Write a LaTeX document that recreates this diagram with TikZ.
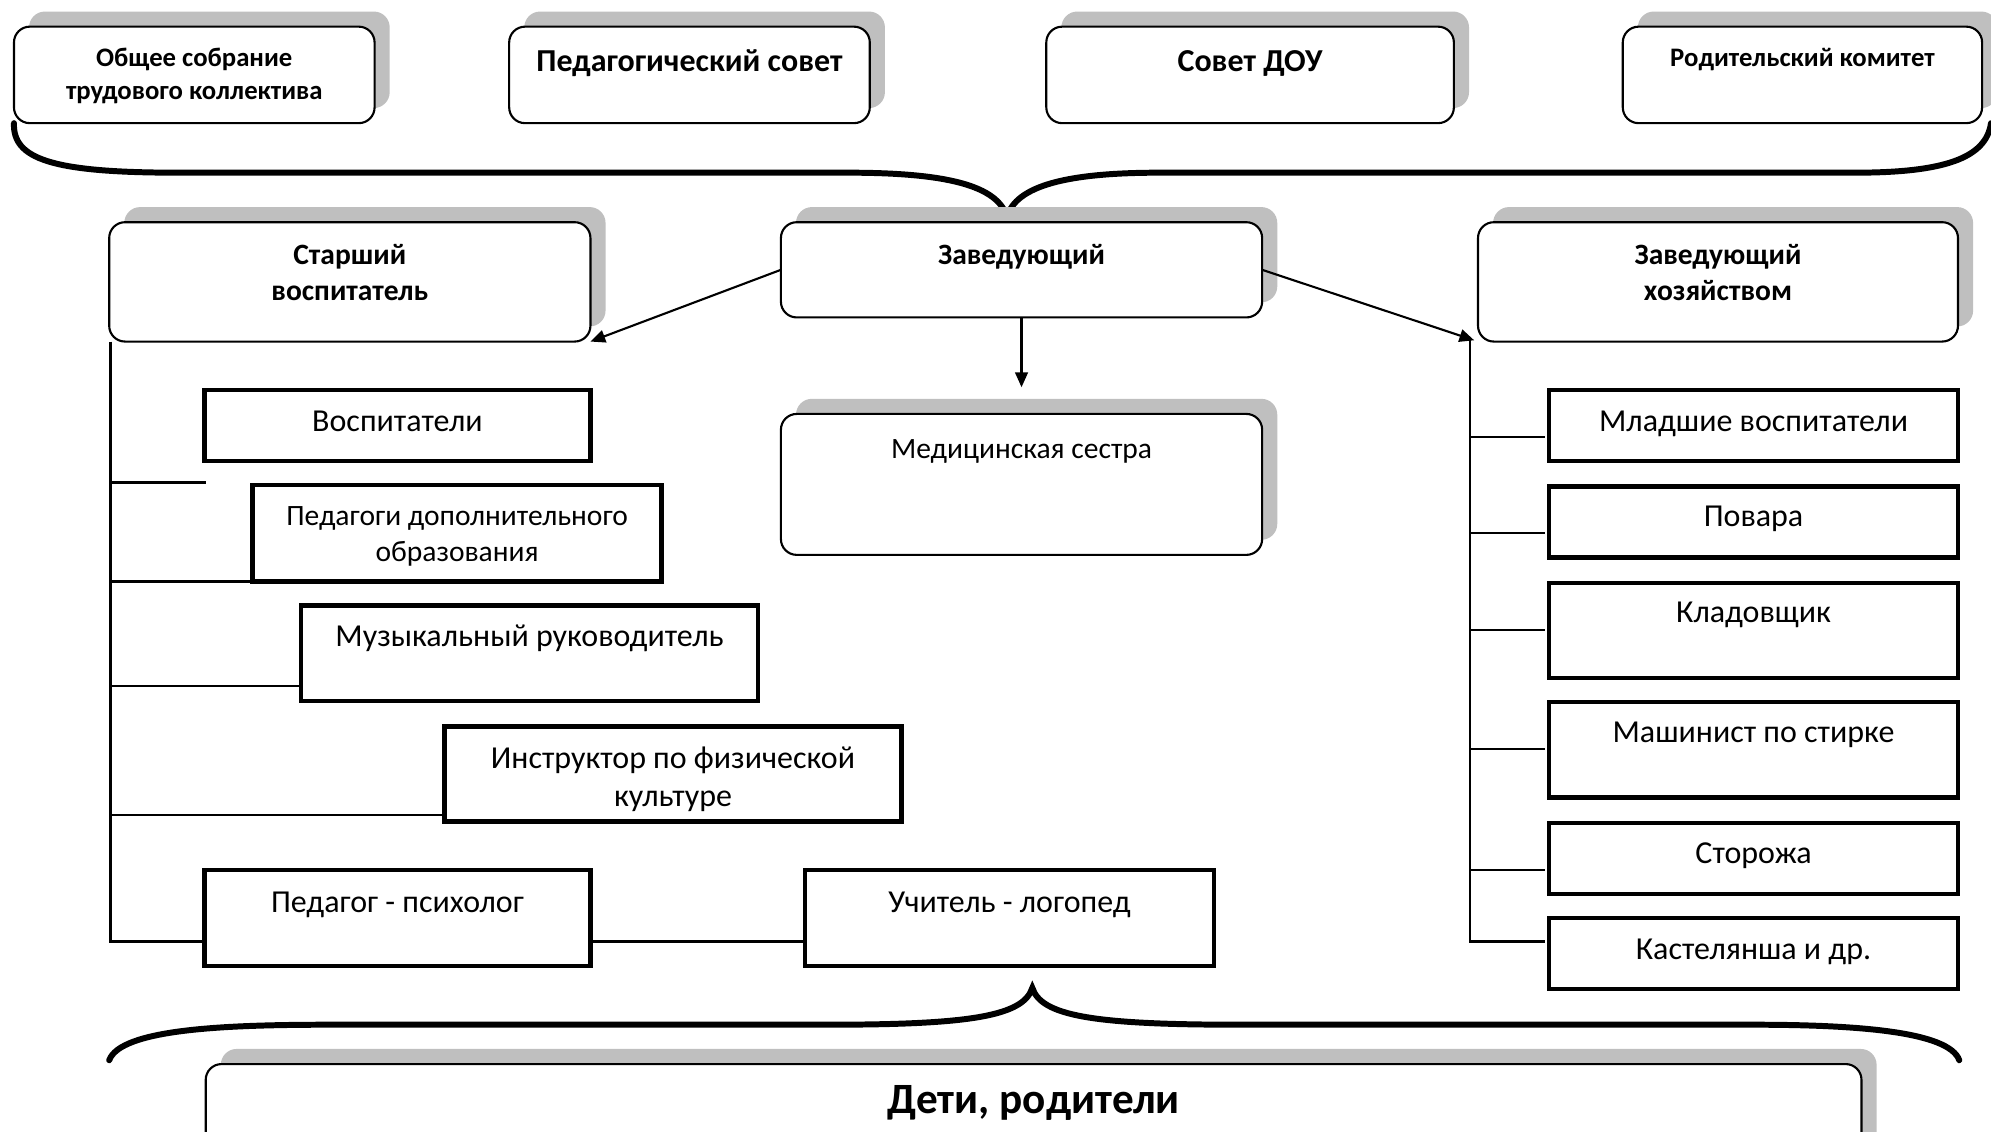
\documentclass[tikz,border=0pt]{standalone}
\usepackage{fontspec}
\setmainfont{Carlito}
\usetikzlibrary{shadows,arrows.meta,calc}
\newcommand\fSm{\bfseries\fontsize{7.6}{9.2}\selectfont}
\newcommand\fPd{\bfseries\fontsize{9.1}{10}\selectfont}
\newcommand\fMd{\bfseries\fontsize{8.4}{10.5}\selectfont}
\newcommand\fNr{\fontsize{9.1}{10.8}\selectfont}
\newcommand\fPdo{\fontsize{8.4}{10.1}\selectfont}
\newcommand\fMed{\fontsize{8.4}{10}\selectfont}
\newcommand\fBg{\bfseries\fontsize{12.3}{14}\selectfont}
\tikzset{
  rbox/.style={draw, rounded corners=4.5pt, fill=white, line width=0.6pt, inner sep=0pt, outer sep=0pt,
    drop shadow={shadow xshift=4.3pt, shadow yshift=4.3pt, fill=black!25, opacity=1}},
  sbox/.style={draw, line width=1.25pt, fill=white, inner sep=0pt, outer sep=0pt},
  txt/.style={inner sep=0pt, anchor=base, align=center},
  conn/.style={line width=0.6pt},
  arr/.style={line width=0.6pt, -{Triangle[length=4.2pt,width=3.6pt]}},
  brace/.style={line width=1.7pt, line cap=round}
}
\newcommand\bx[5]{\node[#1, minimum width=#4*0.3613pt, minimum height=#5*0.3613pt] (#2) at (#3) {};}
\begin{document}
\begin{tikzpicture}[x=0.3613pt, y=-0.3613pt]
\path[use as bounding box] (0,0) rectangle (1568,891);
\clip (0,0) rectangle (1568,891);

% top row
\bx{rbox}{obs}{153,59}{284}{76}
\bx{rbox}{ped}{543,59}{284}{76}
\bx{rbox}{sov}{984.5,59}{321}{76}
\bx{rbox}{rod}{1419.5,59}{283}{76}
\node[txt, font=\fSm] (tobs) at (153,78) {Общее собрание\\трудового коллектива};
\node[txt, font=\fPd] (tped) at (543,56.4) {Педагогический совет};
\node[txt, font=\fPd] (tsov) at (984.5,56.4) {Совет ДОУ};
\node[txt, font=\fSm] (trod) at (1419.5,52.5) {Родительский комитет};

% top brace
\draw[brace] (obs.south west) .. controls (10,125) and (40,136) .. (140,136) -- (668,136)
  .. controls (745,136) and (786,146) .. (793,171)
  .. controls (800,146) and (841,136) .. (913,136) -- (1461,136)
  .. controls (1530,136) and (1564,125) .. (1568,97);

% middle row
\bx{rbox}{star}{275.5,222}{379}{94}
\bx{rbox}{zav}{804.5,212.5}{379}{75}
\bx{rbox}{hoz}{1353,222}{378}{94}
\bx{rbox}{med}{804.5,381.5}{379}{111}
\node[txt, font=\fMd] (tstar) at (275.5,237) {Старший\\воспитатель};
\node[txt, font=\fMd] (tzav) at (804.5,208) {Заведующий};
\node[txt, font=\fMd] (thoz) at (1353,237) {Заведующий\\хозяйством};
\node[txt, font=\fMed] (tmed) at (804.5,361) {Медицинская сестра};

\draw[arr] (zav.west) -- (star.south east);
\draw[arr] (zav.east) -- ($(hoz.south west)+(-3,-1)$);
\draw[arr, shorten >=7.6pt] (zav.south) -- (med.north);

% left group
\bx{sbox}{vosp}{313,335}{304}{56}
\bx{sbox}{pdo}{360,420}{322}{76}
\bx{sbox}{muz}{417,514.5}{360}{75}
\bx{sbox}{instr}{530,609.5}{360}{75}
\bx{sbox}{psy}{313,723}{304}{76}
\bx{sbox}{log}{795,723}{322}{76}
\node[txt, font=\fNr] (tvosp) at (313,340) {Воспитатели};
\node[txt, font=\fPdo] (tpdo) at (360,442) {Педагоги дополнительного\\образования};
\node[txt, font=\fNr] (tmuz) at (417,509) {Музыкальный руководитель};
\node[txt, font=\fNr] (tinstr) at (530,635) {Инструктор по физической\\культуре};
\node[txt, font=\fNr] (tpsy) at (313,719) {Педагог - психолог};
\node[txt, font=\fNr] (tlog) at (795,719) {Учитель - логопед};

\coordinate (lt) at (87,269);
\coordinate (lb) at (87,741.5);
\coordinate (b1) at (162,380);
\coordinate (b3) at (237,540);
\coordinate (b4) at (350,642);
\draw[conn] (lt) -- (lb) -- (psy.west |- lb);
\draw[conn] (lt |- b1) -- (b1);
\draw[conn] (lt |- pdo.south west) -- (pdo.south west);
\draw[conn] (lt |- b3) -- (b3);
\draw[conn] (lt |- b4) -- (b4);
\draw[conn] (psy.east |- lb) -- (log.west |- lb);

% right group
\bx{sbox}{mlad}{1381,335}{322}{56}
\bx{sbox}{povar}{1381,411}{322}{56}
\bx{sbox}{klad}{1381,496.5}{322}{75}
\bx{sbox}{mash}{1381,590.5}{322}{75}
\bx{sbox}{stor}{1381,676}{322}{56}
\bx{sbox}{kast}{1381,751}{322}{56}
\node[txt, font=\fNr] (tmlad) at (1381,340) {Младшие воспитатели};
\node[txt, font=\fNr] (tpovar) at (1381,414.6) {Повара};
\node[txt, font=\fNr] (tklad) at (1381,490) {Кладовщик};
\node[txt, font=\fNr] (tmash) at (1381,585) {Машинист по стирке};
\node[txt, font=\fNr] (tstor) at (1381,680) {Сторожа};
\node[txt, font=\fNr] (tkast) at (1381,755.6) {Кастелянша и др.};

\coordinate (rt) at (1158,268);
\coordinate (rb) at (1158,741.5);
\coordinate (r1) at (1217,344);
\coordinate (r2) at (1217,420);
\coordinate (r3) at (1217,496);
\coordinate (r4) at (1217,590);
\coordinate (r5) at (1217,685);
\coordinate (r6) at (1217,741.5);
\draw[conn] (rt) -- (rb) -- (r6);
\draw[conn] (rt |- r1) -- (r1);
\draw[conn] (rt |- r2) -- (r2);
\draw[conn] (rt |- r3) -- (r3);
\draw[conn] (rt |- r4) -- (r4);
\draw[conn] (rt |- r5) -- (r5);

% bottom brace
\draw[brace] (86,835) .. controls (95,810) and (180,807) .. (261,807) -- (653,807)
  .. controls (765,807) and (806,800) .. (813,778)
  .. controls (820,800) and (861,807) .. (975,807) -- (1380,807)
  .. controls (1460,807) and (1535,812) .. (1543,835);

% bottom box
\bx{rbox}{deti}{814,888}{1304}{100}
\node[txt, font=\fBg] (tdeti) at (814,876.6) {Дети, родители};
\end{tikzpicture}
\end{document}
